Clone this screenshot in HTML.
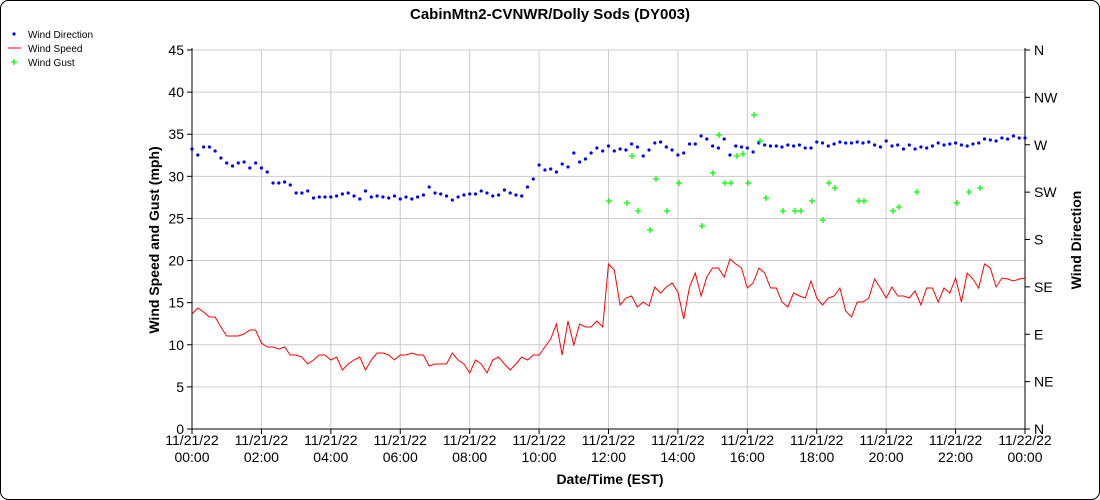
<!DOCTYPE html>
<html><head><meta charset="utf-8"><style>
html,body{margin:0;padding:0;background:#fff;}
svg{display:block;font-family:"Liberation Sans",sans-serif;}
</style></head><body>
<svg id="s" width="1100" height="500" xmlns="http://www.w3.org/2000/svg">
<rect x="0.5" y="0.5" width="1099" height="499" rx="8" fill="#fff" stroke="#000"/>
<text x="550" y="19" font-size="15" font-weight="bold" text-anchor="middle">CabinMtn2-CVNWR/Dolly Sods (DY003)</text>
<g font-size="10">
<circle cx="14" cy="34" r="1.6" fill="#00f"/><text x="28" y="38">Wind Direction</text>
<line x1="8" y1="48" x2="21" y2="48" stroke="#f00"/><text x="28" y="52">Wind Speed</text>
<path d="M11 62h6M14 59v6" stroke="#0f0" stroke-width="1.3"/><text x="28" y="66">Wind Gust</text>
</g>
<g id="grid" stroke="#ccc" stroke-width="1"></g>
<g id="axes" stroke="#000" stroke-width="1"></g>
<g id="lbl" font-size="14"></g>
<text x="610" y="484" font-size="14" font-weight="bold" text-anchor="middle">Date/Time (EST)</text>
<text transform="translate(159,240) rotate(-90)" font-size="14" font-weight="bold" text-anchor="middle">Wind Speed and Gust (mph)</text>
<text transform="translate(1081,240) rotate(-90)" font-size="14" font-weight="bold" text-anchor="middle">Wind Direction</text>
<g id="data"></g>
</svg>
<script>
var NS="http://www.w3.org/2000/svg";
function el(p,t,a,txt){var e=document.createElementNS(NS,t);for(var k in a)e.setAttribute(k,a[k]);if(txt!==undefined)e.textContent=txt;document.getElementById(p).appendChild(e);return e;}
var X0=192,X1=1025,Y0=429,Y1=50;
for(var v=0;v<=45;v+=5){var y=Y0-v*(Y0-Y1)/45;
 if(v>0)el("grid","line",{x1:X0,x2:X1,y1:y,y2:y});
 el("axes","line",{x1:X0-5,x2:X0,y1:y,y2:y});
 el("lbl","text",{x:X0-8,y:y+5,"text-anchor":"end"},""+v);}
var dirs=["N","NE","E","SE","S","SW","W","NW","N"];
for(var i=0;i<9;i++){var y=Y0-i*(Y0-Y1)/8;
 el("axes","line",{x1:X1,x2:X1+5,y1:y,y2:y});
 el("lbl","text",{x:X1+9,y:y+5},dirs[i]);}
var hrs=["00:00","02:00","04:00","06:00","08:00","10:00","12:00","14:00","16:00","18:00","20:00","22:00","00:00"];
for(var i=0;i<13;i++){var x=X0+i*(X1-X0)/12;
 if(i>0&&i<12)el("grid","line",{x1:x,x2:x,y1:Y1,y2:Y0});
 el("axes","line",{x1:x,x2:x,y1:Y0,y2:Y0+5});
 el("lbl","text",{x:x,y:445,"text-anchor":"middle"},i==12?"11/22/22":"11/21/22");
 el("lbl","text",{x:x,y:462,"text-anchor":"middle"},hrs[i]);}
el("axes","line",{x1:X0,x2:X0,y1:Y1-2,y2:Y0});
el("axes","line",{x1:X1,x2:X1,y1:Y1-2,y2:Y0});
el("axes","line",{x1:X0,x2:X1,y1:Y0,y2:Y0});
var sp=[314,308,312,317,317,327,336,336,336,334,330,330,343,347,347,349,347,355,355,357,364,360,355,355,360,357,370,364,360,357,370,360,353,353,355,360,355,355,353,355,355,366,364,364,364,353,360,364,373,360,364,373,360,357,364,370,364,357,360,355,355,347,339,324,355,321,345,324,327,327,321,
327,264,270,305,298,296,307,302,306,287,293,287,283,292,319,287,273,296,277,268,268,277,259,264,268,288,283,268,273,288,288,302,307,293,296,298,281,298,305,298,296,288,311,317,302,302,298,279,288,298,287,296,296,298,291,305,288,288,302,288,293,278,302,273,279,288,264,268,287,278,279,281,279,278];
var dr=[149,155,147,147,151,158,163,166,163,162,168,163,168,172,183,183,182,185,193,193,191,198,197,197,197,196,194,193,196,199,191,197,196,197,198,196,199,197,199,197,195,187,193,194,196,200,197,195,194,194,191,193,196,195,190,193,195,196,187,179,165,170,169,172,164,167,153,162,159,153,148,
151,146,151,149,150,144,147,156,150,143,142,147,150,155,153,144,144,136,139,146,148,139,155,146,147,148,152,143,145,146,146,147,145,146,145,148,148,142,143,146,144,142,143,143,142,143,142,145,147,141,146,145,149,145,149,147,148,146,143,145,144,143,145,146,144,143,139,140,141,138,139,136,138,138];
var st=(X1-X0)/144,pts=[];
for(var i=0;i<sp.length;i++)pts.push((X0+i*st).toFixed(1)+","+sp[i]);
el("data","polyline",{points:pts.join(" "),fill:"none",stroke:"#f00","stroke-width":1});
for(var i=0;i<dr.length;i++)el("data","circle",{cx:(X0+i*st).toFixed(1),cy:dr[i],r:1.6,fill:"#00f"});
var g=[[609,201],[627,203],[632,156],[638,211],[650,230],[656,179],[667,211],[679,183],[702,226],[713,173],[719,135],[725,183],[731,183],[737,156],[743,154],[748,183],[754,115],[760,141],[766,198],[783,211],[795,211],[801,211],[812,201],[823,220],[829,183],[835,188],[859,201],[864,201],[893,211],[899,207],[917,192],[957,203],[969,192],[980,188]];
for(var i=0;i<g.length;i++)el("data","path",{d:"M"+(g[i][0]-3)+" "+g[i][1]+"h6M"+g[i][0]+" "+(g[i][1]-3)+"v6",stroke:"#0f0","stroke-width":1.3});
</script>
</body></html>
